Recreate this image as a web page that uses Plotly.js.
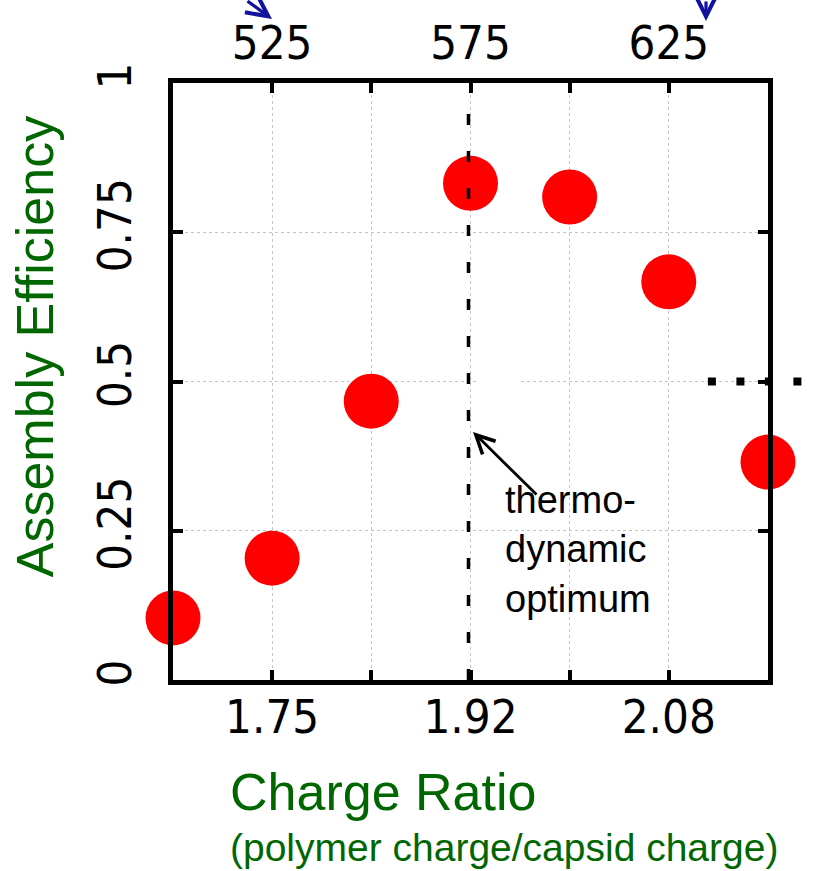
<!DOCTYPE html>
<html>
<head>
<meta charset="utf-8">
<script src="https://cdn.plot.ly/plotly-3.0.1.min.js"></script>
<style>html,body{margin:0;padding:0;background:#fff;}</style>
</head>
<body>
<div id="chart" style="width:817px;height:871px;"></div>
<script>
// ---- data ----
const chargeRatio   = [1.6667, 1.75, 1.8333, 1.9167, 2.0, 2.0833, 2.1667];
const polymerLength = [500, 525, 550, 575, 600, 625, 650];
const efficiency    = [0.104, 0.204, 0.467, 0.832, 0.809, 0.667, 0.365];
const optimumRatio  = 1.915;

const xTickVals = [1.75, 1.8333, 1.9167, 2.0, 2.0833];
const xTickText = ["1.75", "", "1.92", "", "2.08"];
const topTickVals = [525, 575, 625];
const topTickText = ["525", "575", "625"];
const yTickVals = [0, 0.25, 0.5, 0.75, 1];
const yTickText = ["0", "0.25", "0.5", "0.75", "1"];

const GREEN = '#006600';
const tickFont = {family: 'DejaVu Sans Condensed, DejaVu Sans', size: 47, color: '#000'};
const textFamily = 'Liberation Sans, Arial, sans-serif';

const traces = [
  {
    x: chargeRatio, y: efficiency, xaxis: 'x', yaxis: 'y',
    type: 'scatter', mode: 'markers',
    marker: {size: 55, color: '#ff0000', line: {width: 0}},
    cliponaxis: false, hoverinfo: 'skip'
  },
  {
    x: polymerLength, y: efficiency, xaxis: 'x2', yaxis: 'y',
    type: 'scatter', mode: 'markers',
    marker: {size: 1, opacity: 0}, hoverinfo: 'skip'
  }
];

const baseAxis = {
  showline: true, linewidth: 5, linecolor: '#000',
  ticks: 'inside', ticklen: 10, tickwidth: 4, tickcolor: '#000',
  mirror: 'ticks',
  showgrid: true, gridcolor: '#c4c4c4', gridwidth: 1, griddash: 'dot',
  zeroline: false, tickfont: tickFont, fixedrange: true
};

const layout = {
  width: 817, height: 871,
  margin: {l: 173, r: 49, t: 83, b: 191, pad: 0},
  paper_bgcolor: '#fff', plot_bgcolor: '#fff',
  showlegend: false,
  xaxis: Object.assign({}, baseAxis, {
    range: [chargeRatio[0], chargeRatio[chargeRatio.length - 1]],
    tickmode: 'array', tickvals: xTickVals, ticktext: xTickText,
    ticklabelstandoff: -8
  }),
  xaxis2: {
    overlaying: 'x', side: 'top', anchor: 'y',
    range: [polymerLength[0], polymerLength[polymerLength.length - 1]],
    tickmode: 'array', tickvals: topTickVals, ticktext: topTickText,
    ticks: '', showline: false, showgrid: false, zeroline: false,
    tickfont: tickFont, ticklabelstandoff: 14, fixedrange: true
  },
  yaxis: Object.assign({}, baseAxis, {
    range: [0, 1],
    tickmode: 'array', tickvals: yTickVals, ticktext: yTickText,
    tickangle: -90, ticklabelstandoff: 18
  }),
  shapes: [
    {type: 'rect', xref: 'x', yref: 'y', x0: 1.923, x1: 1.9566, y0: 0.494, y1: 0.506,
     fillcolor: '#fff', line: {width: 0}, layer: 'between'},
    {type: 'line', xref: 'x', yref: 'paper', x0: optimumRatio, x1: optimumRatio, y0: 0, y1: 0.98,
     line: {color: '#000', width: 3.5, dash: '11px,26px'}, layer: 'above'},
    {type: 'line', xref: 'paper', yref: 'paper', x0: 0.899, x1: 1.065, y0: 0.5, y1: 0.5,
     line: {color: '#000', width: 8, dash: '8px,20.5px'}, layer: 'above'}
  ],
  annotations: [
    {text: 'Assembly Efficiency', textangle: -90, xref: 'paper', yref: 'paper',
     x: -0.232, y: 0.559, xanchor: 'center', yanchor: 'middle', showarrow: false,
     font: {family: textFamily, size: 52, color: GREEN}},
    {text: 'Charge Ratio', xref: 'paper', yref: 'paper',
     x: 0.0924, y: -0.1876, xanchor: 'left', yanchor: 'middle', showarrow: false,
     font: {family: textFamily, size: 52, color: GREEN}},
    {text: '(polymer charge/capsid charge)', xref: 'paper', yref: 'paper',
     x: 0.0924, y: -0.281, xanchor: 'left', yanchor: 'middle', showarrow: false,
     font: {family: textFamily, size: 39, color: GREEN}},
    {text: 'thermo-<br>dynamic<br>optimum', xref: 'paper', yref: 'paper', align: 'left',
     x: 0.5546, y: 0.2178, xanchor: 'left', yanchor: 'middle', showarrow: false,
     font: {family: textFamily, size: 38, color: '#000'}},
    {text: '', xref: 'paper', yref: 'paper', x: 0.5042, y: 0.4154,
     showarrow: true, ax: 65, ay: 64, arrowhead: 5, arrowsize: 1.3, arrowwidth: 2.8, arrowcolor: '#000'},
    {text: '', xref: 'paper', yref: 'paper', x: 0.1664, y: 1.1072,
     showarrow: true, ax: -26, ay: -26, arrowhead: 5, arrowsize: 1.3, arrowwidth: 3.2, arrowcolor: '#1212a0'},
    {text: '', xref: 'paper', yref: 'paper', x: 0.8958, y: 1.1039,
     showarrow: true, ax: 0, ay: -28, arrowhead: 5, arrowsize: 1.3, arrowwidth: 3.2, arrowcolor: '#1212a0'}
  ]
};

Plotly.newPlot('chart', traces, layout, {displayModeBar: false, staticPlot: true});
</script>
</body>
</html>
